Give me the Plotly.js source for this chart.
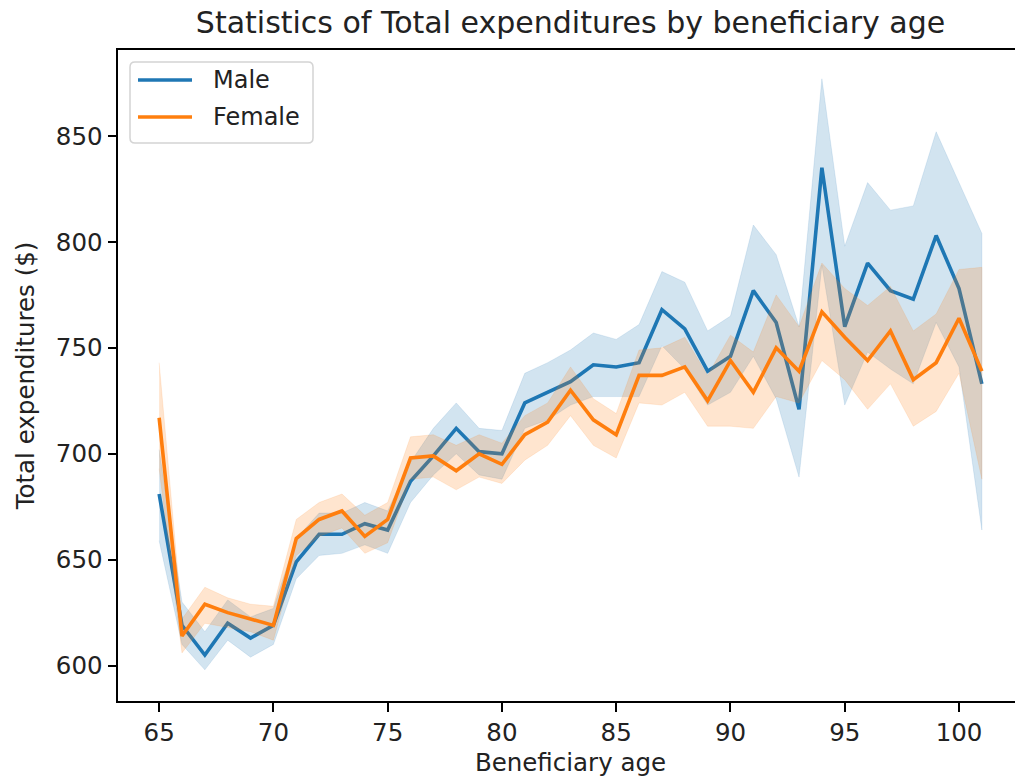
<!DOCTYPE html>
<html>
<head>
<meta charset="utf-8">
<script src="https://cdn.plot.ly/plotly-3.0.1.min.js"></script>
<style>
html, body { margin: 0; padding: 0; overflow: hidden; background: #fff; }
#chart { width: 1040px; height: 777px; }
</style>
</head>
<body>
<div id="chart"></div>
<script>
const ages = [65,66,67,68,69,70,71,72,73,74,75,76,77,78,79,80,81,82,83,84,85,86,87,88,89,90,91,92,93,94,95,96,97,98,99,100,101];

const maleMean  = [681,619,605,620,613,619,649,662,662,667,664,687,699,712,701,700,724,729,734,742,741,743,768,759,739,746,777,762,721,835,760,790,777,773,803,778,733];
const maleUpper = [702,630,616,631,623,627,660,672,672,677,673,696,712,724,712,711,738,743,749,757,754,761,786,781,758,765,808,794,760,877,798,828,815,817,852,828,804];
const maleLower = [659,610,598,612,604,610,641,652,653,657,653,677,690,700,690,688,712,716,723,727,727,727,751,740,723,729,746,726,689,789,723,748,740,733,762,741,664];

const femaleMean  = [717,614,629,625,622,619,660,669,673,661,669,698,699,692,700,695,709,715,730,716,709,737,737,741,725,744,729,750,739,767,755,744,758,735,743,764,739];
const femaleUpper = [743,622,637,632,629,628,669,677,681,671,677,708,709,704,709,705,718,724,741,726,719,749,750,755,737,756,748,775,760,790,778,770,779,758,766,787,788];
const femaleLower = [693,606,620,618,616,612,652,661,665,653,658,688,689,683,689,686,697,704,718,704,698,724,723,729,713,713,712,727,724,744,735,721,733,713,720,738,688];

const seriesNames = ['Male', 'Female'];
const xTicks = [65,70,75,80,85,90,95,100];
const yTicks = [600,650,700,750,800,850];

function band(x, up, lo) {
  return {
    x: x.concat(x.slice().reverse()),
    y: up.concat(lo.slice().reverse())
  };
}

const blue = '#1f77b4', orange = '#ff7f0e';
const mb = band(ages, maleUpper, maleLower);
const fb = band(ages, femaleUpper, femaleLower);

const traces = [
  {x: ages, y: maleMean, mode: 'lines', name: seriesNames[0], line: {color: blue, width: 3.6}, hoverinfo: 'skip'},
  {x: mb.x, y: mb.y, mode: 'lines', fill: 'toself', fillcolor: 'rgba(31,119,180,0.2)',
   line: {color: 'rgba(31,119,180,0.12)', width: 1}, hoverinfo: 'skip'},
  {x: ages, y: femaleMean, mode: 'lines', name: seriesNames[1], line: {color: orange, width: 3.6}, hoverinfo: 'skip'},
  {x: fb.x, y: fb.y, mode: 'lines', fill: 'toself', fillcolor: 'rgba(255,127,14,0.2)',
   line: {color: 'rgba(255,127,14,0.12)', width: 1}, hoverinfo: 'skip'}
];

// Plot area geometry (pixels) used to place the matplotlib-style legend
const PL = 118, PW = 905, PT = 50, PH = 651;
const px = v => (v - PL) / PW;
const py = v => (PT + PH - v) / PH;

function roundedRect(x0, y0, x1, y1, r) {
  const X0 = px(x0), X1 = px(x1), Y0 = py(y0), Y1 = py(y1);
  const rx = r / PW, ry = r / PH;
  return `M${X0 + rx},${Y0} L${X1 - rx},${Y0} Q${X1},${Y0} ${X1},${Y0 - ry} ` +
         `L${X1},${Y1 + ry} Q${X1},${Y1} ${X1 - rx},${Y1} L${X0 + rx},${Y1} ` +
         `Q${X0},${Y1} ${X0},${Y1 + ry} L${X0},${Y0 - ry} Q${X0},${Y0} ${X0 + rx},${Y0} Z`;
}

const legendRows = [80, 117];
const legendColors = [blue, orange];

const shapes = [
  {type: 'path', xref: 'paper', yref: 'paper', path: roundedRect(130, 62, 313, 143, 5),
   fillcolor: 'rgba(255,255,255,0.8)', line: {color: '#d4d4d4', width: 1.5}, layer: 'above'}
];
const annotations = [];
seriesNames.forEach((n, i) => {
  shapes.push({type: 'line', xref: 'paper', yref: 'paper',
               x0: px(138), x1: px(192), y0: py(legendRows[i]), y1: py(legendRows[i]),
               line: {color: legendColors[i], width: 3.6}, layer: 'above'});
  annotations.push({text: n, xref: 'paper', yref: 'paper', x: px(211), y: py(legendRows[i]),
                    xanchor: 'left', yanchor: 'middle', showarrow: false,
                    font: {size: 24, color: '#222'}});
});

const layout = {
  width: 1040, height: 777,
  margin: {l: PL, r: 1040 - PL - PW, t: PT, b: 777 - PT - PH},
  paper_bgcolor: '#fff', plot_bgcolor: '#fff',
  font: {family: 'DejaVu Sans', size: 24, color: '#222'},
  title: {text: 'Statistics of Total expenditures by beneficiary age', font: {size: 30, color: '#222'},
          x: 0.5, xref: 'paper', xanchor: 'center', y: 1 - 22/777, yref: 'container', yanchor: 'middle'},
  xaxis: {
    range: [63.2, 102.8], tickvals: xTicks, ticktext: xTicks.map(String),
    showgrid: false, zeroline: false, showline: true, linecolor: '#000', linewidth: 2, mirror: true,
    ticks: 'outside', ticklen: 8.5, tickwidth: 2, tickcolor: '#000',
    tickfont: {size: 24.5, color: '#222'},
    title: {text: 'Beneficiary age', font: {size: 24.5, color: '#222'}, standoff: 10}
  },
  yaxis: {
    range: [583.3, 890.6], tickvals: yTicks, ticktext: yTicks.map(String),
    showgrid: false, zeroline: false, showline: true, linecolor: '#000', linewidth: 2, mirror: true,
    ticks: 'outside', ticklen: 8.5, tickwidth: 2, tickcolor: '#000',
    tickfont: {size: 24.5, color: '#222'},
    title: {text: 'Total expenditures ($)', font: {size: 24.5, color: '#222'}, standoff: 14}
  },
  showlegend: false,
  shapes: shapes,
  annotations: annotations
};

Plotly.newPlot('chart', traces, layout, {displayModeBar: false, staticPlot: true});
</script>
</body>
</html>
